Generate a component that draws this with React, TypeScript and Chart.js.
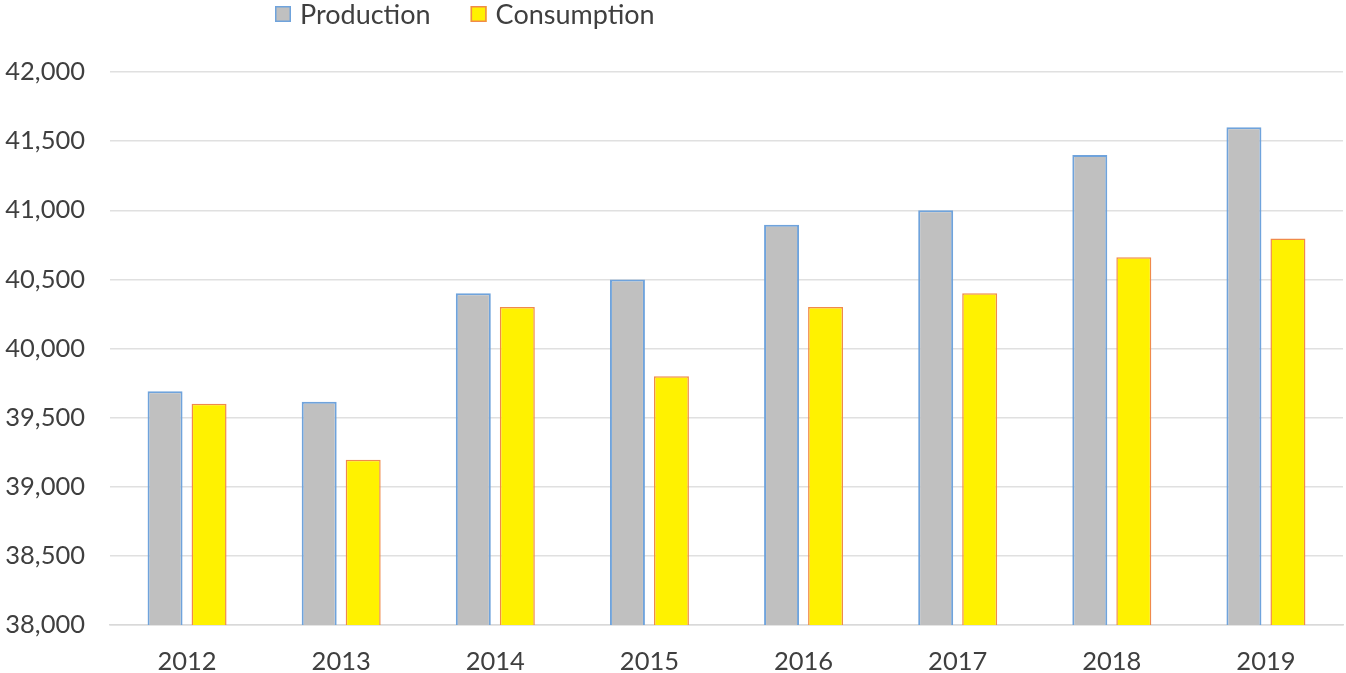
import React, { useEffect, useRef } from "react";
import { Chart, registerables } from "chart.js";

Chart.register(...registerables);

const categories = ["2012", "2013", "2014", "2015", "2016", "2017", "2018", "2019"];
const production = [39690, 39615, 40400, 40500, 40895, 41000, 41400, 41600];
const consumption = [39600, 39195, 40300, 39800, 40300, 40400, 40660, 40795];
const seriesNames = ["Production", "Consumption"];

const FONT = "Lato, 'Noto Sans', sans-serif";

const legendPlugin = {
  id: "customLegend",
  afterDraw(chart: any) {
    const ctx = chart.ctx;
    ctx.save();
    ctx.font = `27px ${FONT}`;
    ctx.textBaseline = "middle";
    let x = 275;
    const y = 14;
    chart.data.datasets.forEach((ds: any) => {
      ctx.fillStyle = ds.backgroundColor;
      ctx.fillRect(x, y - 8, 16, 16);
      ctx.strokeStyle = ds.borderColor;
      ctx.lineWidth = 1.5;
      ctx.strokeRect(x + 0.75, y - 7.25, 14.5, 14.5);
      ctx.fillStyle = "#3f3f3f";
      ctx.fillText(ds.label, x + 25, y + 1);
      x += 25 + ctx.measureText(ds.label).width + 40;
    });
    ctx.restore();
  },
};

export default function App() {
  const ref = useRef<HTMLCanvasElement>(null);
  useEffect(() => {
    if (!ref.current) return;
    const chart = new Chart(ref.current, {
      type: "bar",
      data: {
        labels: categories,
        datasets: [
          {
            label: seriesNames[0],
            data: production,
            backgroundColor: "#c0c0c0",
            borderColor: "#6fa3dc",
            borderWidth: 2,
          },
          {
            label: seriesNames[1],
            data: consumption,
            backgroundColor: "#fff200",
            borderColor: "#f08a4b",
            borderWidth: 1.5,
          },
        ],
      },
      options: {
        animation: false,
        responsive: false,
        maintainAspectRatio: false,
        layout: { padding: { top: 72, left: 0, right: 3, bottom: 0 } },
        datasets: { bar: { categoryPercentage: 0.571, barPercentage: 0.795 } },
        plugins: { legend: { display: false }, tooltip: { enabled: false } },
        scales: {
          x: {
            grid: { display: false, drawTicks: false },
            border: { display: true, color: "#d9d9d9", width: 1.5 },
            ticks: { font: { family: FONT, size: 25.5 }, color: "#3f3f3f", padding: 21 },
            afterFit: (s: any) => {
              s.height = 48;
            },
          },
          y: {
            min: 38000,
            max: 42000,
            grid: { color: "#e0e0e0", lineWidth: 1.5, drawTicks: false },
            border: { display: false },
            ticks: {
              stepSize: 500,
              font: { family: FONT, size: 25.5 },
              color: "#3f3f3f",
              padding: 25,
              callback: (v: any) => Number(v).toLocaleString("en-US"),
            },
            afterFit: (s: any) => {
              s.width = 110;
            },
          },
        },
      },
      plugins: [legendPlugin],
    });
    return () => chart.destroy();
  }, []);
  return (
    <div style={{ position: "fixed", left: 0, top: 0, width: 1346, height: 673, background: "#fff" }}>
      <canvas ref={ref} width={1346} height={673} style={{ width: 1346, height: 673 }} />
    </div>
  );
}
